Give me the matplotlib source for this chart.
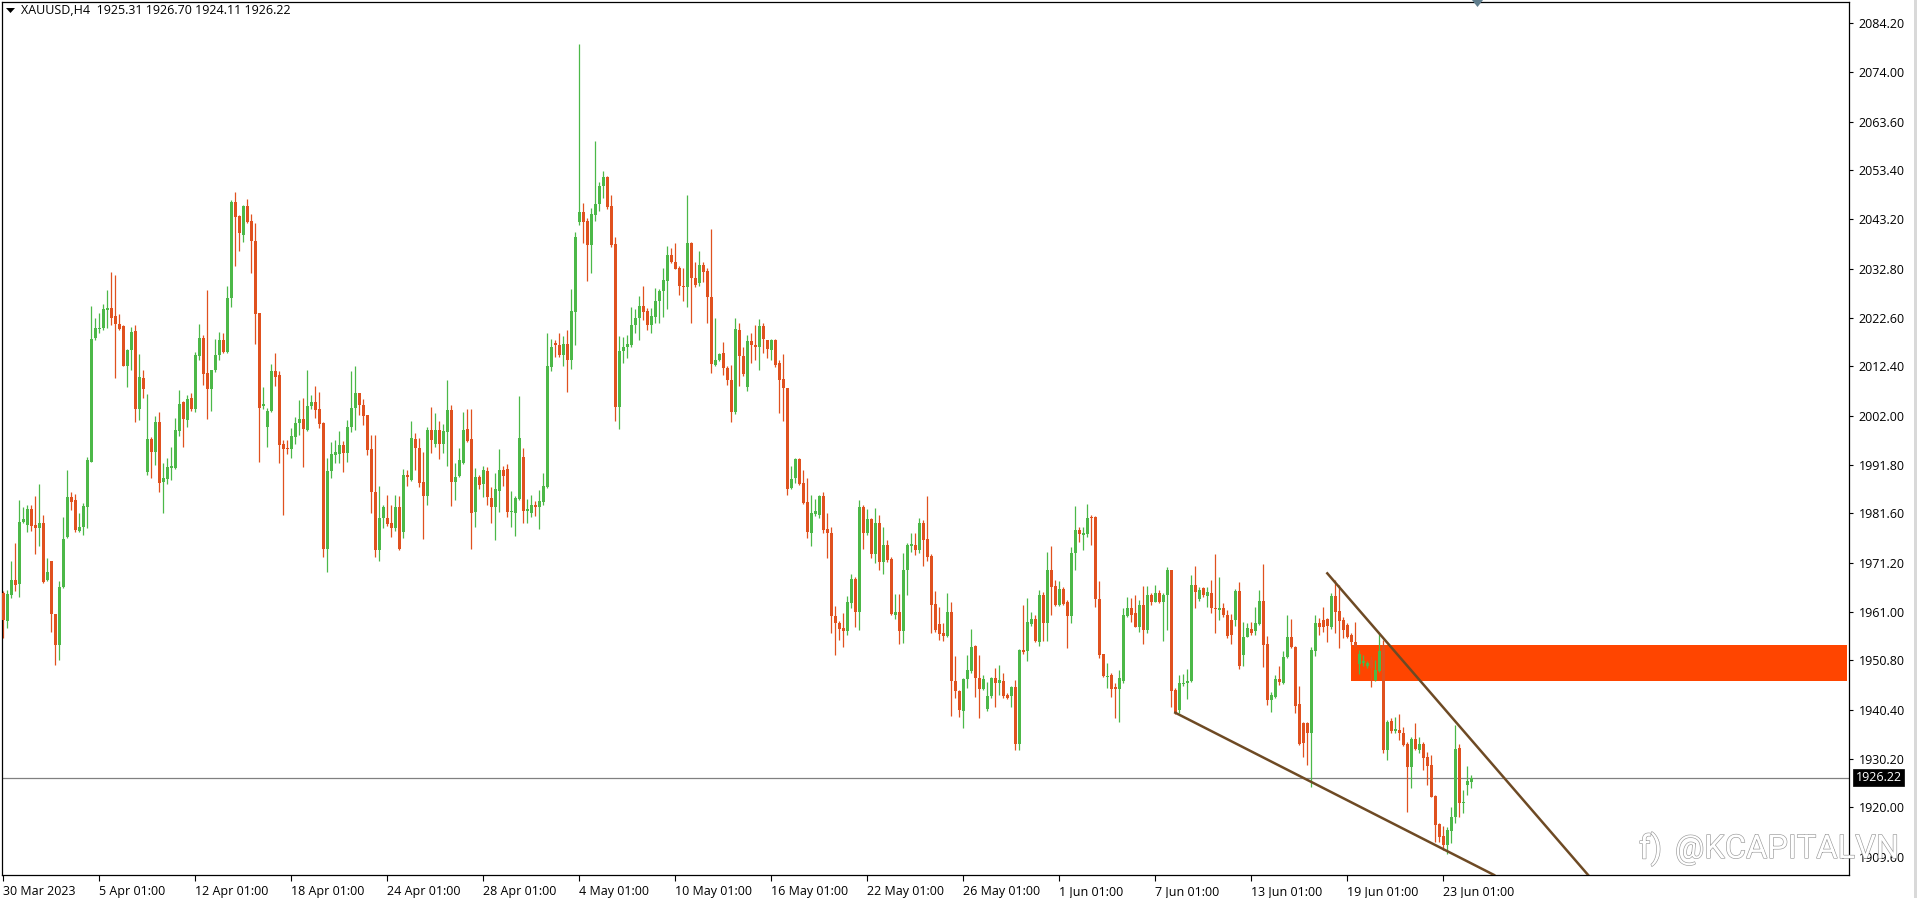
import matplotlib
matplotlib.use("Agg")
import matplotlib.pyplot as plt
import matplotlib.patheffects as pe
from matplotlib.patches import Rectangle, Polygon

opens = [
    1964.8, 1959.1, 1964.5, 1967.5, 1966.8, 1979.8, 1979.1, 1982.4, 1979.1, 1978.4,
    1979.6, 1967.5, 1971.5, 1960.5, 1953.9, 1966.1, 1976.6, 1984.9, 1984.4, 1977.9,
    1978.8, 1983.0, 1992.4, 2018.4, 2020.1, 2020.3, 2024.2, 2024.5, 2022.9, 2021.2,
    2020.8, 2012.5, 2015.8, 2019.7, 2003.4, 2009.9, 1990.2, 1997.2, 1994.4, 2000.7,
    1988.1, 1988.7, 1991.1, 1991.0, 1998.9, 2004.8, 2001.1, 2005.7, 2003.4, 2014.5,
    2018.3, 2010.9, 2007.7, 2011.5, 2014.7, 2017.8, 2015.4, 2026.6, 2046.7, 2043.9,
    2039.9, 2046.0, 2042.8, 2038.6, 2023.5, 2004.1, 1999.7, 2003.1, 2011.3, 2010.6,
    1996.1, 1995.3, 1995.0, 1997.6, 2000.6, 2001.3, 1999.0, 2004.1, 2004.8, 2003.4,
    2000.4, 1974.0, 1990.5, 1993.8, 1994.1, 1995.9, 1994.3, 1999.6, 2003.6, 2006.7,
    2004.3, 2002.2, 1995.0, 1986.1, 1973.8, 1980.5, 1980.5, 1979.5, 1978.6, 1983.0,
    1977.7, 1989.6, 1988.6, 1997.1, 1995.2, 1988.1, 1985.2, 1999.0, 1996.2, 1999.0,
    1996.1, 1998.7, 2003.2, 1988.2, 1989.3, 1992.2, 1999.2, 1997.2, 1981.9, 1989.1,
    1987.7, 1990.5, 1984.8, 1983.0, 1986.3, 1990.7, 1990.8, 1981.8, 1981.7, 1984.5,
    1993.3, 1982.1, 1981.7, 1983.3, 1982.8, 1984.0, 1987.0, 2012.3, 2017.2, 2016.8,
    2014.8, 2017.1, 2013.6, 2023.8, 2042.6, 2044.6, 2042.9, 2037.8, 2044.1, 2046.3,
    2050.2, 2052.1, 2046.0, 2038.0, 2003.9, 2015.5, 2016.4, 2016.8, 2021.0, 2022.5,
    2025.0, 2024.0, 2021.0, 2022.8, 2026.0, 2028.2, 2030.3, 2035.6, 2034.3, 2032.9,
    2029.2, 2028.9, 2038.2, 2030.8, 2029.9, 2033.6, 2032.4, 2026.8, 2012.7, 2013.7,
    2015.1, 2012.0, 2009.5, 2002.9, 2020.0, 2014.5, 2008.1, 2017.7, 2016.8, 2016.4,
    2020.8, 2017.9, 2015.8, 2017.9, 2013.0, 2009.7, 2007.8, 1986.8, 1988.9, 1992.9,
    1987.9, 1984.0, 1977.5, 1981.4, 1981.2, 1985.2, 1978.2, 1977.4, 1960.0, 1958.7,
    1957.5, 1957.0, 1962.7, 1967.8, 1961.0, 1983.0, 1977.5, 1980.3, 1973.1, 1979.6,
    1971.4, 1974.9, 1972.0, 1960.3, 1961.0, 1957.0, 1969.6, 1974.8, 1974.9, 1973.8,
    1979.6, 1976.1, 1972.6, 1962.6, 1958.4, 1956.4, 1955.9, 1961.0, 1946.5, 1944.4,
    1940.2, 1946.8, 1948.6, 1953.7, 1947.0, 1944.7, 1940.5, 1943.2, 1947.0, 1946.0,
    1946.5, 1943.5, 1943.3, 1945.1, 1933.3, 1953.0, 1952.7, 1958.4, 1959.4, 1954.7,
    1964.5, 1958.7, 1969.8, 1966.4, 1962.4, 1965.8, 1963.1, 1960.1, 1973.3, 1978.1,
    1977.0, 1977.2, 1980.7, 1980.7, 1963.6, 1952.0, 1947.2, 1947.7, 1945.1, 1944.7,
    1946.5, 1960.1, 1961.7, 1960.6, 1957.7, 1962.4, 1957.1, 1964.5, 1963.1, 1964.8,
    1963.1, 1964.5, 1969.7, 1944.6, 1940.4, 1945.8, 1946.0, 1946.5, 1966.6, 1963.6,
    1966.0, 1964.3, 1964.8, 1961.8, 1961.3, 1961.7, 1960.3, 1959.2, 1959.2, 1965.4,
    1951.9, 1955.7, 1957.3, 1957.0, 1958.4, 1963.2, 1954.1, 1942.5, 1943.0, 1946.8,
    1946.1, 1951.4, 1955.7, 1953.6, 1941.6, 1937.7, 1937.7, 1935.6, 1952.8, 1958.7,
    1959.2, 1959.4, 1957.8, 1964.3, 1961.1, 1959.2, 1958.2, 1956.1, 1954.7, 1950.0,
    1950.3, 1949.5, 1950.9, 1946.7, 1948.6, 1954.0, 1931.9, 1938.1, 1936.0, 1936.2,
    1935.6, 1933.3, 1928.4, 1934.2, 1932.0, 1933.3, 1930.6, 1928.9, 1922.4, 1916.5,
    1914.0, 1912.1, 1915.1, 1917.9, 1932.4, 1920.8, 1924.7, 1925.31,
]
highs = [
    1965.2, 1965.5, 1971.5, 1975.3, 1984.4, 1983.0, 1983.3, 1983.3, 1985.2, 1987.7,
    1981.2, 1972.2, 1971.5, 1960.5, 1967.3, 1980.9, 1990.7, 1986.1, 1985.6, 1981.6,
    1983.7, 1993.3, 2025.1, 2022.6, 2023.6, 2025.4, 2028.4, 2032.1, 2031.5, 2023.3,
    2021.0, 2016.1, 2020.7, 2021.0, 2015.0, 2011.6, 2006.6, 1997.6, 2002.0, 2002.9,
    1992.1, 1993.1, 1995.5, 2001.5, 2007.4, 2005.2, 2006.4, 2006.7, 2015.4, 2021.2,
    2018.9, 2028.4, 2011.7, 2018.0, 2019.6, 2019.4, 2029.2, 2047.2, 2048.9, 2044.1,
    2046.2, 2047.4, 2044.3, 2042.5, 2023.5, 2008.0, 2003.6, 2012.9, 2015.1, 2011.3,
    1997.0, 1997.0, 1999.4, 2001.7, 2005.3, 2005.7, 2011.7, 2006.4, 2008.3, 2006.9,
    2000.8, 1993.1, 1996.6, 1996.9, 1998.9, 1996.8, 2001.1, 2011.4, 2012.4, 2006.7,
    2005.5, 2002.2, 1998.0, 1998.0, 1987.3, 1983.3, 1985.4, 1983.3, 1985.4, 1985.2,
    1990.8, 1990.7, 2001.0, 1998.3, 1997.3, 1994.5, 1999.7, 2003.8, 2002.5, 2001.0,
    2000.3, 2009.5, 2004.3, 1992.1, 1995.2, 2002.9, 2003.4, 2003.4, 1991.0, 1989.6,
    1991.5, 1991.2, 1987.0, 1990.1, 1995.0, 1991.4, 1991.9, 1986.3, 1985.2, 2006.2,
    1995.2, 1984.5, 1985.4, 1984.2, 1986.5, 1990.1, 2019.4, 2018.2, 2017.9, 2019.4,
    2018.7, 2020.0, 2028.5, 2040.5, 2080.0, 2046.5, 2043.4, 2045.5, 2059.6, 2050.9,
    2053.2, 2052.2, 2048.3, 2039.4, 2018.7, 2018.6, 2018.9, 2024.7, 2024.3, 2027.1,
    2029.3, 2024.5, 2024.5, 2028.7, 2028.5, 2032.9, 2037.6, 2037.1, 2038.3, 2033.4,
    2032.9, 2048.3, 2038.4, 2034.3, 2036.5, 2034.3, 2032.9, 2041.2, 2022.4, 2015.2,
    2017.5, 2012.4, 2012.7, 2022.6, 2021.4, 2016.5, 2018.9, 2019.3, 2021.0, 2022.2,
    2021.5, 2017.9, 2018.2, 2018.2, 2013.7, 2015.0, 2007.8, 1991.4, 1993.1, 1993.1,
    1990.7, 1988.9, 1985.4, 1984.5, 1985.4, 1986.1, 1981.6, 1978.8, 1962.2, 1959.1,
    1960.6, 1964.3, 1968.9, 1968.2, 1984.4, 1983.3, 1982.4, 1980.5, 1982.6, 1981.2,
    1978.8, 1976.0, 1972.5, 1964.7, 1964.7, 1973.3, 1975.3, 1977.5, 1977.4, 1980.5,
    1980.2, 1985.1, 1973.0, 1965.2, 1961.9, 1958.5, 1964.8, 1963.1, 1951.7, 1944.6,
    1947.0, 1951.9, 1957.3, 1954.0, 1951.9, 1947.7, 1946.3, 1947.2, 1949.1, 1949.8,
    1948.2, 1943.9, 1945.3, 1946.7, 1953.1, 1962.4, 1963.8, 1960.8, 1960.3, 1965.5,
    1965.0, 1973.5, 1974.7, 1967.6, 1967.3, 1966.1, 1963.4, 1974.5, 1983.1, 1978.8,
    1978.8, 1983.5, 1981.2, 1981.0, 1967.3, 1952.1, 1950.2, 1948.2, 1946.0, 1948.8,
    1961.7, 1964.0, 1963.8, 1964.5, 1963.4, 1966.4, 1966.4, 1964.8, 1966.6, 1965.5,
    1964.8, 1970.4, 1969.7, 1944.9, 1947.7, 1947.9, 1948.9, 1968.7, 1970.5, 1966.2,
    1966.2, 1966.2, 1967.7, 1973.1, 1968.2, 1962.7, 1961.3, 1960.5, 1965.7, 1967.1,
    1958.9, 1958.7, 1958.9, 1962.0, 1965.5, 1971.0, 1955.9, 1944.2, 1947.7, 1949.6,
    1952.8, 1960.3, 1959.4, 1953.8, 1945.4, 1937.9, 1937.9, 1953.5, 1960.3, 1959.6,
    1962.0, 1959.6, 1964.8, 1967.7, 1966.6, 1959.8, 1958.5, 1956.4, 1958.9, 1953.0,
    1951.9, 1950.7, 1951.6, 1950.9, 1956.3, 1955.0, 1938.3, 1938.6, 1939.0, 1939.5,
    1936.9, 1933.7, 1934.8, 1937.6, 1934.8, 1933.7, 1931.6, 1931.0, 1922.6, 1916.6,
    1916.1, 1915.9, 1920.1, 1937.2, 1933.3, 1923.6, 1928.6, 1926.70,
]
lows = [
    1955.4, 1957.6, 1963.8, 1965.2, 1964.0, 1979.5, 1977.6, 1977.9, 1973.1, 1974.8,
    1966.9, 1967.3, 1956.8, 1949.8, 1950.9, 1965.9, 1976.3, 1982.3, 1977.7, 1977.7,
    1977.0, 1978.4, 1992.4, 2017.9, 2019.4, 2020.0, 2020.3, 2021.0, 2009.9, 2020.0,
    2012.4, 2008.0, 2011.7, 2000.8, 2001.1, 2005.7, 1989.6, 1988.9, 1991.6, 1986.1,
    1981.6, 1987.7, 1988.6, 1990.8, 1997.8, 1995.5, 1999.7, 2003.1, 2002.9, 2013.7,
    2008.5, 2001.3, 2003.1, 2011.2, 2013.7, 2015.1, 2015.2, 2024.9, 2033.4, 2036.6,
    2038.5, 2042.3, 2031.9, 2017.1, 1992.3, 2003.4, 1995.4, 2002.9, 2008.3, 1992.1,
    1981.2, 1994.1, 1993.2, 1996.2, 1998.0, 1991.2, 1998.9, 2003.4, 2001.5, 1999.4,
    1972.5, 1969.2, 1988.9, 1992.2, 1992.2, 1990.3, 1992.4, 1998.7, 1999.0, 2002.2,
    2000.1, 1993.8, 1981.7, 1972.5, 1971.5, 1978.6, 1978.9, 1976.6, 1977.9, 1973.9,
    1976.3, 1987.3, 1988.4, 1990.7, 1987.0, 1976.1, 1983.3, 1994.3, 1995.5, 1993.0,
    1994.2, 1991.4, 1983.1, 1984.4, 1989.1, 1991.9, 1996.6, 1974.2, 1978.8, 1986.6,
    1985.0, 1983.3, 1979.5, 1976.0, 1981.9, 1987.3, 1980.9, 1978.8, 1976.8, 1984.4,
    1979.6, 1979.5, 1980.7, 1981.0, 1978.3, 1983.3, 1986.8, 2011.3, 2014.3, 2014.3,
    2012.4, 2006.9, 2011.8, 2016.8, 2042.0, 2038.3, 2030.3, 2031.9, 2042.9, 2045.0,
    2047.6, 2045.4, 2037.3, 2001.0, 1999.3, 2013.0, 2014.1, 2016.5, 2019.3, 2017.8,
    2022.1, 2020.0, 2019.4, 2021.4, 2021.4, 2022.8, 2024.3, 2034.1, 2032.7, 2027.3,
    2026.1, 2024.7, 2021.5, 2028.9, 2029.2, 2030.1, 2021.5, 2011.0, 2012.4, 2013.4,
    2010.6, 2008.5, 2000.8, 2002.4, 2008.3, 2010.4, 2007.1, 2013.1, 2013.7, 2011.5,
    2015.1, 2014.1, 2013.7, 2012.3, 2002.5, 2001.0, 1985.4, 1986.6, 1988.0, 1987.5,
    1983.5, 1976.3, 1974.7, 1981.0, 1980.5, 1977.5, 1972.2, 1956.6, 1951.9, 1955.0,
    1953.6, 1956.1, 1961.7, 1957.7, 1957.1, 1974.0, 1977.0, 1972.2, 1971.2, 1969.7,
    1968.9, 1971.4, 1960.3, 1959.4, 1954.3, 1954.5, 1964.5, 1973.5, 1972.9, 1973.2,
    1970.6, 1971.5, 1956.6, 1956.8, 1955.0, 1954.9, 1955.7, 1939.1, 1942.8, 1938.8,
    1936.7, 1944.9, 1948.1, 1943.0, 1938.6, 1944.6, 1940.2, 1942.8, 1941.0, 1943.5,
    1942.8, 1942.6, 1941.1, 1931.9, 1932.0, 1952.2, 1950.7, 1958.0, 1954.7, 1953.7,
    1954.9, 1954.9, 1960.3, 1962.2, 1962.2, 1962.4, 1953.3, 1958.7, 1969.8, 1975.6,
    1973.9, 1976.7, 1974.9, 1961.9, 1951.2, 1947.2, 1944.9, 1943.0, 1938.6, 1937.9,
    1946.1, 1959.9, 1958.9, 1957.7, 1956.8, 1954.2, 1956.6, 1962.4, 1962.9, 1962.7,
    1954.9, 1957.1, 1941.0, 1939.6, 1939.7, 1945.3, 1942.7, 1946.3, 1961.7, 1963.3,
    1964.1, 1962.0, 1960.6, 1956.6, 1959.2, 1959.9, 1955.4, 1954.2, 1958.0, 1948.9,
    1949.5, 1955.6, 1956.1, 1956.1, 1958.2, 1949.3, 1941.4, 1940.0, 1942.8, 1945.6,
    1945.8, 1951.2, 1953.3, 1939.7, 1933.0, 1930.6, 1928.9, 1924.2, 1951.6, 1956.1,
    1956.8, 1954.7, 1957.3, 1956.4, 1953.3, 1955.4, 1955.4, 1954.0, 1953.5, 1947.9,
    1949.5, 1949.1, 1945.1, 1946.5, 1948.4, 1931.3, 1929.8, 1935.6, 1935.5, 1934.1,
    1932.8, 1919.1, 1924.0, 1932.0, 1931.3, 1927.8, 1924.7, 1922.1, 1912.8, 1912.8,
    1911.1, 1910.2, 1912.4, 1916.6, 1917.9, 1918.7, 1922.6, 1924.11,
]
closes = [
    1959.2, 1964.7, 1967.5, 1966.6, 1979.8, 1980.3, 1982.4, 1979.0, 1978.4, 1979.6,
    1967.1, 1969.2, 1960.5, 1953.9, 1966.1, 1976.1, 1984.9, 1984.0, 1978.1, 1978.8,
    1983.1, 1992.8, 2018.2, 2020.3, 2020.5, 2024.4, 2024.5, 2022.6, 2021.2, 2020.2,
    2012.5, 2015.8, 2019.6, 2003.4, 2010.1, 2007.7, 1997.1, 1994.4, 2000.7, 1988.0,
    1988.9, 1991.2, 1991.4, 1999.0, 2004.5, 2001.4, 2005.6, 2003.4, 2014.8, 2018.3,
    2010.8, 2007.7, 2011.5, 2014.7, 2017.8, 2015.3, 2026.6, 2046.7, 2043.7, 2040.4,
    2046.0, 2042.7, 2038.6, 2023.3, 2003.7, 2004.5, 2003.1, 2011.3, 2010.2, 1995.9,
    1995.1, 1995.0, 1997.8, 2000.6, 2001.3, 1999.2, 2004.1, 2005.0, 2003.2, 2000.3,
    1974.0, 1990.5, 1994.0, 1994.5, 1995.9, 1994.3, 1999.6, 2003.6, 2006.7, 2004.3,
    2002.0, 1994.8, 1986.1, 1973.8, 1980.5, 1982.8, 1979.3, 1978.6, 1983.0, 1974.0,
    1989.6, 1989.1, 1997.3, 1995.3, 1988.0, 1985.2, 1999.0, 1996.9, 1999.0, 1996.1,
    1998.8, 2003.2, 1988.2, 1989.1, 1992.8, 1999.0, 1996.8, 1981.7, 1989.1, 1987.5,
    1990.7, 1985.0, 1983.0, 1986.6, 1990.7, 1989.4, 1981.9, 1982.1, 1984.8, 1997.3,
    1982.1, 1982.4, 1983.3, 1982.8, 1984.2, 1987.2, 2012.4, 2016.4, 2016.8, 2014.8,
    2017.1, 2013.6, 2024.0, 2039.4, 2044.7, 2042.7, 2037.7, 2044.3, 2046.4, 2050.2,
    2052.1, 2045.8, 2037.8, 2003.9, 2015.5, 2016.5, 2017.0, 2021.0, 2022.6, 2025.0,
    2023.8, 2021.0, 2022.9, 2026.0, 2028.2, 2030.5, 2035.6, 2034.2, 2032.8, 2029.1,
    2028.9, 2038.2, 2030.8, 2029.4, 2033.6, 2032.2, 2026.8, 2012.8, 2013.8, 2014.9,
    2012.0, 2009.5, 2002.9, 2020.1, 2014.5, 2010.8, 2017.7, 2016.8, 2016.4, 2020.8,
    2018.2, 2016.1, 2017.8, 2012.7, 2009.5, 2007.8, 1986.6, 1988.7, 1992.9, 1987.7,
    1983.8, 1977.7, 1981.6, 1982.1, 1985.2, 1978.1, 1977.4, 1960.0, 1958.5, 1957.4,
    1957.0, 1962.9, 1967.8, 1961.0, 1982.8, 1977.5, 1980.3, 1973.1, 1979.6, 1971.4,
    1974.9, 1971.7, 1960.4, 1961.0, 1957.0, 1969.7, 1974.9, 1975.1, 1973.8, 1979.6,
    1976.0, 1972.4, 1962.4, 1957.1, 1956.3, 1955.9, 1961.0, 1946.5, 1944.4, 1940.4,
    1946.8, 1948.8, 1953.5, 1947.0, 1944.8, 1946.8, 1943.3, 1947.0, 1946.0, 1946.7,
    1943.3, 1942.8, 1945.1, 1933.3, 1953.0, 1952.5, 1958.8, 1959.4, 1954.8, 1964.5,
    1958.7, 1969.8, 1966.2, 1962.4, 1965.8, 1962.6, 1960.1, 1973.2, 1978.1, 1977.2,
    1977.5, 1980.5, 1980.5, 1963.6, 1951.9, 1947.5, 1947.5, 1944.7, 1944.7, 1947.0,
    1960.3, 1961.7, 1960.3, 1957.8, 1962.4, 1957.1, 1964.5, 1963.1, 1964.8, 1963.1,
    1964.5, 1969.7, 1944.4, 1939.7, 1946.1, 1946.1, 1946.4, 1966.6, 1965.0, 1965.5,
    1964.5, 1965.0, 1961.7, 1961.5, 1961.7, 1960.3, 1955.9, 1956.1, 1965.4, 1949.6,
    1955.7, 1957.5, 1956.6, 1958.5, 1963.2, 1954.0, 1942.5, 1943.5, 1946.8, 1946.3,
    1951.4, 1955.7, 1953.6, 1941.2, 1933.3, 1933.4, 1935.6, 1953.0, 1958.7, 1957.7,
    1957.7, 1958.0, 1964.3, 1961.0, 1959.1, 1957.1, 1955.7, 1954.7, 1953.6, 1952.2,
    1950.7, 1950.3, 1949.1, 1948.8, 1952.8, 1931.9, 1937.9, 1936.0, 1936.3, 1935.5,
    1933.0, 1928.4, 1934.2, 1932.1, 1933.3, 1930.3, 1928.6, 1922.2, 1916.3, 1913.7,
    1912.1, 1915.2, 1917.9, 1932.1, 1920.8, 1921.0, 1925.4, 1926.22,
]

price_ticks = [2084.2, 2074.0, 2063.6, 2053.4, 2043.2, 2032.8, 2022.6, 2012.4, 2002.0,
               1991.8, 1981.6, 1971.2, 1961.0, 1950.8, 1940.4, 1930.2, 1920.0, 1909.6]
date_labels = ["30 Mar 2023", "5 Apr 01:00", "12 Apr 01:00", "18 Apr 01:00", "24 Apr 01:00",
               "28 Apr 01:00", "4 May 01:00", "10 May 01:00", "16 May 01:00", "22 May 01:00",
               "26 May 01:00", "1 Jun 01:00", "7 Jun 01:00", "13 Jun 01:00", "19 Jun 01:00",
               "23 Jun 01:00"]
last_price = 1926.22
zone_bars = [336.9, 460.9]
zone_prices = [1946.5, 1954.0]
upper_line_bars = [331.0, 396.2]
upper_line_prices = [1969.0, 1905.8]
lower_line_bars = [293.0, 372.7]
lower_line_prices = [1939.8, 1905.8]

GREEN = "#4cb848"
RED = "#e0511f"
BROWN = "#6e4a24"
W, H = 1917, 898

plt.rcParams["font.family"] = ["Open Sans", "DejaVu Sans"]
fig = plt.figure(figsize=(W / 100, H / 100), dpi=100, facecolor="white")
ax = fig.add_axes([2.3 / W, 1 - 875 / H, (1848.7 - 2.3) / W, (875 - 2) / H])
ax.set_xlim(-0.25, 461.35)
ax.set_ylim(1905.8, 2088.7)

n = len(closes)
bars = list(range(n))
colors = [GREEN if closes[i] >= opens[i] else RED for i in bars]

ax.add_patch(Rectangle((zone_bars[0], zone_prices[0]), zone_bars[1] - zone_bars[0],
                       zone_prices[1] - zone_prices[0], color="#ff4500", lw=0, zorder=1))
ax.axhline(last_price, color="#808080", lw=0.9, zorder=1.5)

ax.vlines(bars, lows, highs, colors=colors, lw=0.9, zorder=2)
ax.bar(bars, [abs(closes[i] - opens[i]) for i in bars],
       bottom=[min(closes[i], opens[i]) for i in bars],
       width=0.82, color=colors, lw=0, zorder=3)

ax.plot(upper_line_bars, upper_line_prices, color=BROWN, lw=1.8, zorder=4)
ax.plot(lower_line_bars, lower_line_prices, color=BROWN, lw=1.8, zorder=4)

for s in ax.spines.values():
    s.set_color("black")
    s.set_linewidth(0.9)

ax.yaxis.tick_right()
ax.set_yticks(price_ticks, ["%.2f" % p for p in price_ticks])
ax.set_xticks(list(range(0, 361, 24)), date_labels)
ax.tick_params(axis="y", length=3, width=0.8, pad=4, labelsize=9, colors="black")
ax.tick_params(axis="x", length=4, width=0.8, pad=3, labelsize=9, colors="black")
for lab in ax.get_xticklabels():
    lab.set_ha("left")

# current price box
ax.annotate("1926.22", xy=(1, last_price), xycoords=("axes fraction", "data"),
            xytext=(5, 0), textcoords="offset points", va="center", ha="left",
            fontsize=9, color="white", zorder=6,
            bbox=dict(boxstyle="square,pad=0.18", fc="black", ec="black", lw=0.5),
            annotation_clip=False)

# title top left
fig.text(21 / W, 1 - 10.5 / H, "XAUUSD,H4  1925.31 1926.70 1924.11 1926.22",
         fontsize=9, va="center", ha="left", color="black")
fig.add_artist(Polygon([[6 / W, 1 - 8 / H], [15 / W, 1 - 8 / H], [10.5 / W, 1 - 13 / H]],
                       closed=True, transform=fig.transFigure, color="black", lw=0, zorder=10))
# scroll marker at the top
fig.add_artist(Polygon([[1472 / W, 1 - 0 / H], [1483 / W, 1 - 0 / H], [1477.5 / W, 1 - 7 / H]],
                       closed=True, transform=fig.transFigure, color="#5f7d8c", lw=0, zorder=10))
# right edge strip
fig.add_artist(Rectangle((1914 / W, 0), 3 / W, 1, transform=fig.transFigure,
                         color="#d9d9d9", lw=0))

# watermark
stroke = [pe.withStroke(linewidth=0.9, foreground="#9a9a9a")]
fig.text(1675 / W, 1 - 849 / H, "@KCAPITALVN", fontsize=23.5, va="center", ha="left",
         color="white", family=["Roboto", "DejaVu Sans"], path_effects=stroke, zorder=10)
fig.text(1639 / W, 1 - 849 / H, "f)", fontsize=24, va="center", ha="left",
         color="white", family=["Roboto", "DejaVu Sans"], path_effects=stroke, zorder=10)

fig.savefig("out.png", dpi=100)
